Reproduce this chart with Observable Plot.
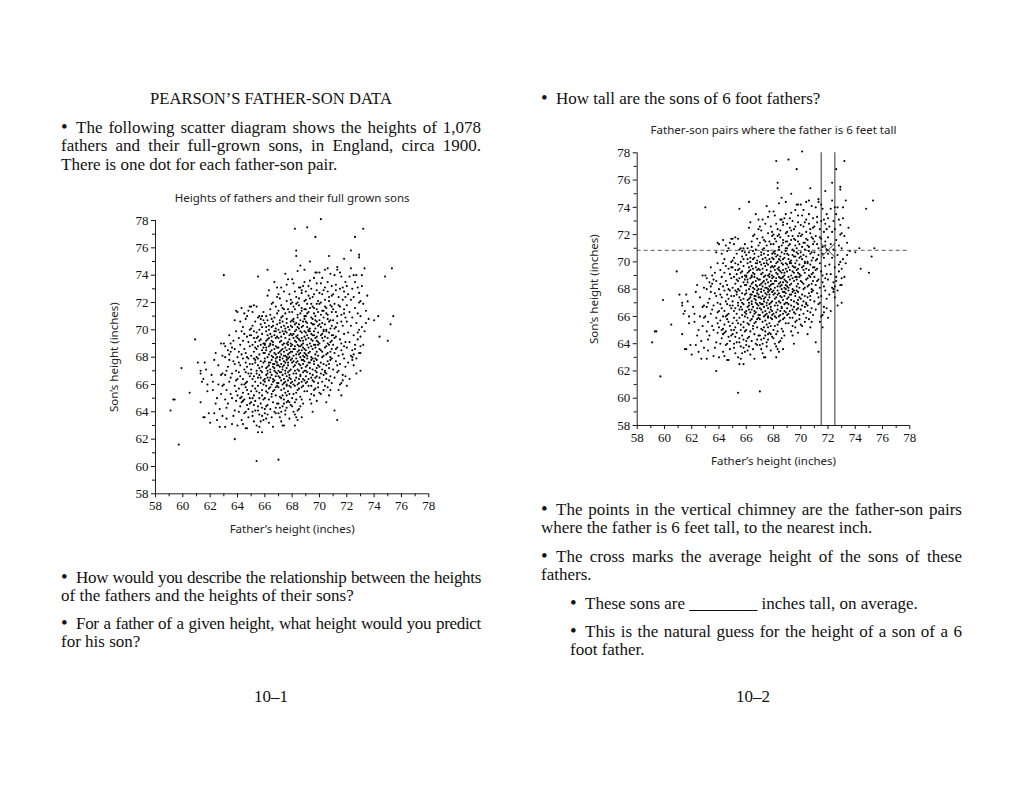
<!DOCTYPE html>
<html><head><meta charset="utf-8">
<script src="https://cdn.jsdelivr.net/npm/d3@7"></script>
<script src="https://cdn.jsdelivr.net/npm/@observablehq/plot@0.6"></script>
<style>
html,body{margin:0;padding:0;background:#fff;}
#page{position:relative;width:1024px;height:791px;overflow:hidden;font-family:"Liberation Serif",serif;font-size:17px;color:#111;}
.p{position:absolute;line-height:18.5px;}
.ln{white-space:nowrap;text-align:justify;text-align-last:justify;}
.ln.last{text-align-last:left;}
.ln.tight{letter-spacing:-0.32px;}
.b{display:inline-block;width:15px;font-size:19px;line-height:10px;letter-spacing:0;}
.c{text-align:center;}
.chart{position:absolute;}
</style></head>
<body><div id="page">
<div class="p c" style="left:61px;top:90px;width:420px;font-size:16.6px;">PEARSON’S FATHER-SON DATA</div>
<div class="p" style="left:61px;top:118.5px;width:420px;">
  <div class="ln"><span class="b">•</span>The following scatter diagram shows the heights of 1,078</div>
  <div class="ln">fathers and their full-grown sons, in England, circa 1900.</div>
  <div class="ln last">There is one dot for each father-son pair.</div>
</div>
<div class="p" style="left:61px;top:568.5px;width:420px;">
  <div class="ln tight"><span class="b">•</span>How would you describe the relationship between the heights</div>
  <div class="ln last">of the fathers and the heights of their sons?</div>
</div>
<div class="p" style="left:61px;top:614.5px;width:420px;">
  <div class="ln tight"><span class="b">•</span>For a father of a given height, what height would you predict</div>
  <div class="ln last">for his son?</div>
</div>
<div class="p c" style="left:221px;top:687.5px;width:100px;">10–1</div>
<div class="p" style="left:541px;top:90px;width:421px;">
  <div class="ln last"><span class="b">•</span>How tall are the sons of 6 foot fathers?</div>
</div>
<div class="p" style="left:541px;top:500.5px;width:421px;">
  <div class="ln"><span class="b">•</span>The points in the vertical chimney are the father-son pairs</div>
  <div class="ln last">where the father is 6 feet tall, to the nearest inch.</div>
</div>
<div class="p" style="left:541px;top:547.5px;width:421px;">
  <div class="ln"><span class="b">•</span>The cross marks the average height of the sons of these</div>
  <div class="ln last">fathers.</div>
</div>
<div class="p" style="left:570px;top:594.5px;width:392px;">
  <div class="ln last"><span class="b">•</span>These sons are ________ inches tall, on average.</div>
</div>
<div class="p" style="left:570px;top:622.5px;width:392px;">
  <div class="ln"><span class="b">•</span>This is the natural guess for the height of a son of a 6</div>
  <div class="ln last">foot father.</div>
</div>
<div class="p c" style="left:703px;top:687.5px;width:100px;">10–2</div>
<div id="left" class="chart" style="left:90px;top:180px;"></div>
<div id="right" class="chart" style="left:570px;top:112px;"></div>
</div>
<script>
// [father, son] heights in inches, grouped by father height band
const band59to62 = [[59.1,64.1],[59.3,64.9],[59.4,64.9],[59.7,61.6],[59.9,67.2],[60.5,65.4],[60.9,69.3],
[61.1,67.6],[61.3,67.0],[61.3,66.8],[61.3,64.7],[61.5,66.4],[61.5,63.6],[61.6,63.6],[61.6,67.6],[61.8,66.0],[61.7,67.1],[61.9,63.9],[62.0,63.2],[61.8,65.5],[61.4,66.2]];
const band62to63 = [[62.1,66.7],[62.3,67.8],[62.2,66.2],[62.3,63.9],[62.5,65.0],[62.4,64.6],[62.7,62.9],[62.8,66.7],[62.9,66.8],[62.8,65.3],[62.9,63.7],[62.6,67.4],[62.4,68.3],[62.7,64.2],[62.9,65.9],[62.2,65.6],[62.6,66.0],[62.8,69.0],[62.5,63.4],[62.9,68.1]];
const band63to64 = [[63.0,69.0],[63.1,68.8],[63.0,66.0],[63.0,74.0],[63.1,64.9],[63.1,62.9],[63.2,64.3],[63.2,63.5],[63.3,68.5],[63.4,68.2],[63.4,69.6],[63.5,66.5],[63.5,65.3],[63.6,68.7],[63.7,63.7],[63.8,65.9],[63.8,64.1],[63.8,70.7],[63.8,62.0],[63.9,71.4],[64.0,71.3],[63.9,69.9],[63.7,67.7],[63.8,67.5],[63.9,67.0],[63.6,66.8],[63.3,67.3],[63.1,68.0],[63.4,66.2],[63.6,65.0],[63.2,65.6],[63.9,66.3],[63.5,68.4],[63.7,69.2],[63.3,64.6],[63.9,64.8],[63.6,63.1],[63.4,67.8],[63.8,68.6],[63.1,66.7],[63.9,65.5],[63.5,69.0],[63.2,67.0]];
const band64to65 = [[64.0,63.0],[64.3,65.1],[64.4,63.1],[64.6,62.8],[64.7,62.8],[64.8,71.4],[64.1,67.6],[64.2,68.9],[64.2,66.6],[64.3,69.9],[64.4,70.2],[64.5,67.1],[64.5,64.9],[64.6,65.8],[64.6,68.3],[64.7,69.5],[64.7,66.2],[64.8,64.2],[64.9,67.5],[64.9,68.8],[64.1,65.7],[64.2,64.4],[64.3,66.0],[64.4,67.9],[64.5,63.9],[64.6,70.8],[64.7,67.3],[64.8,65.3],[64.9,66.6],[64.0,68.0],[64.1,69.4],[64.2,70.6],[64.3,64.7],[64.4,65.4],[64.5,68.6],[64.6,66.9],[64.7,64.5],[64.8,69.1],[64.9,70.0],[64.0,66.4],[64.1,64.0],[64.2,67.4],[64.3,68.2],[64.4,66.4],[64.5,69.7],[64.6,64.0],[64.7,68.0],[64.8,66.8],[64.9,65.0],[64.0,65.2],[64.3,71.6],[64.5,71.2],[64.6,67.6],[64.7,71.0],[64.8,63.6],[64.9,64.6],[64.1,66.9],[64.2,65.0],[64.4,69.2],[64.6,66.1],[64.8,67.9],[64.9,69.6],[64.5,66.0],[64.3,63.4],[64.7,65.6],[64.1,68.4],[64.9,71.7],[64.4,64.8]];
const band65to66 = [[65.0,71.7],[65.2,71.8],[65.4,71.7],[65.1,71.3],[65.4,60.4],[65.5,73.9],[65.5,62.5],[65.8,62.5],[65.7,63.3],[65.6,63.8],[65.8,63.7],[65.3,64.1],[65.5,64.4],[65.9,64.9],[65.0,64.7],[65.2,65.2],[65.4,65.5],[65.6,65.0],[65.8,65.6],[65.1,65.9],[65.3,66.2],[65.5,66.5],[65.7,66.1],[65.9,66.3],[65.0,66.8],[65.2,66.6],[65.4,67.0],[65.6,67.2],[65.8,66.9],[65.1,67.5],[65.3,67.8],[65.5,67.4],[65.7,67.7],[65.9,67.6],[65.0,68.1],[65.2,68.4],[65.4,68.6],[65.6,68.2],[65.8,68.5],[65.1,68.9],[65.3,69.1],[65.5,68.8],[65.7,69.3],[65.9,69.0],[65.0,69.6],[65.2,69.4],[65.4,69.8],[65.6,70.0],[65.8,69.7],[65.1,70.3],[65.3,70.6],[65.5,70.9],[65.7,70.4],[65.9,70.7],[65.2,63.3],[65.6,62.9],[65.4,63.0],[65.9,63.4],[65.1,64.0],[65.3,65.7],[65.7,64.6],[65.5,65.9],[65.8,67.3],[65.0,67.1],[65.6,66.7],[65.2,67.9],[65.9,68.3],[65.4,68.0],[65.7,68.9],[65.1,66.4],[65.3,64.8],[65.8,65.2],[65.5,69.5],[65.6,71.0],[65.9,71.3],[65.0,65.5],[65.2,69.9],[65.4,66.8],[65.6,69.2],[65.8,70.2],[65.1,63.7],[65.3,67.6],[65.7,67.0],[65.9,66.0],[65.5,67.9],[65.0,70.1],[65.8,64.3],[65.2,64.5],[65.6,65.4],[65.4,69.4],[65.7,70.8],[65.9,68.7],[65.3,68.7],[65.1,65.0],[65.8,71.0],[65.5,64.1],[65.7,66.5]];
const band66to67 = [[66.2,74.4],[66.7,73.5],[66.2,72.5],[66.6,72.0],[66.9,72.4],[66.4,71.5],[66.8,71.7],[66.1,71.0],[66.5,70.8],[66.9,71.2],[66.0,70.5],[66.3,70.3],[66.6,70.6],[66.8,70.1],[66.1,69.9],[66.4,69.7],[66.7,69.9],[66.9,69.5],[66.2,69.3],[66.5,69.2],[66.8,69.4],[66.0,69.0],[66.3,68.8],[66.6,68.9],[66.9,68.7],[66.1,68.5],[66.4,68.4],[66.7,68.3],[66.2,68.0],[66.5,68.1],[66.8,67.9],[66.0,67.7],[66.3,67.6],[66.6,67.5],[66.9,67.4],[66.1,67.2],[66.4,67.1],[66.7,67.0],[66.2,66.8],[66.5,66.7],[66.8,66.6],[66.0,66.4],[66.3,66.3],[66.6,66.2],[66.9,66.1],[66.1,65.9],[66.4,65.8],[66.7,65.6],[66.2,65.4],[66.5,65.3],[66.8,65.2],[66.0,65.0],[66.3,64.9],[66.6,64.7],[66.9,64.6],[66.1,64.4],[66.4,64.2],[66.7,64.0],[66.2,63.8],[66.5,63.6],[66.0,63.9],[66.8,63.9],[66.3,63.2],[66.6,62.9],[66.2,67.3],[66.5,67.8],[66.8,68.2],[66.1,68.7],[66.4,69.0],[66.7,69.6],[66.9,70.4],[66.3,70.0],[66.6,67.3],[66.0,67.9],[66.2,66.5],[66.5,66.0],[66.8,66.9],[66.1,66.7],[66.4,67.6],[66.7,68.6],[66.9,68.0],[66.3,68.2],[66.6,69.1],[66.0,68.3],[66.2,69.6],[66.5,70.2],[66.8,67.7],[66.1,65.5],[66.4,66.5],[66.7,67.2],[66.9,65.9],[66.3,65.7],[66.6,66.4],[66.0,66.2],[66.2,64.5],[66.5,65.1],[66.8,64.3],[66.1,63.5],[66.4,68.9],[66.7,66.3],[66.9,67.6],[66.3,67.4],[66.6,68.0],[66.0,68.9],[66.2,70.7],[66.5,69.5],[66.8,69.9],[66.1,70.2],[66.4,71.1],[66.7,70.9],[66.3,72.9],[66.9,73.1],[66.5,71.9],[66.6,65.5],[66.0,64.2],[66.8,65.8],[66.2,67.0],[66.4,66.9],[66.7,67.5],[66.9,66.8],[66.3,69.4],[66.6,70.3],[66.1,69.2],[66.5,68.5],[66.8,68.8]];
const band67to68 = [[67.0,60.5],[67.3,63.0],[67.4,63.0],[67.5,74.1],[67.7,73.7],[67.2,73.1],[67.4,72.8],[67.8,72.6],[67.1,72.3],[67.6,72.1],[67.9,71.9],[67.3,71.6],[67.0,71.4],[67.5,71.2],[67.8,71.3],[67.2,70.9],[67.6,70.8],[67.9,70.6],[67.1,70.5],[67.4,70.3],[67.7,70.2],[67.0,70.0],[67.3,69.9],[67.6,69.8],[67.9,69.7],[67.2,69.5],[67.5,69.4],[67.8,69.3],[67.1,69.1],[67.4,69.0],[67.7,68.9],[67.0,68.7],[67.3,68.6],[67.6,68.5],[67.9,68.4],[67.2,68.2],[67.5,68.1],[67.8,68.0],[67.1,67.8],[67.4,67.7],[67.7,67.6],[67.0,67.4],[67.3,67.3],[67.6,67.2],[67.9,67.1],[67.2,66.9],[67.5,66.8],[67.8,66.7],[67.1,66.5],[67.4,66.4],[67.7,66.3],[67.0,66.1],[67.3,66.0],[67.6,65.9],[67.9,65.8],[67.2,65.6],[67.5,65.4],[67.8,65.3],[67.1,65.1],[67.4,64.9],[67.7,64.8],[67.0,64.6],[67.3,64.4],[67.6,64.3],[67.9,64.5],[67.2,64.0],[67.5,63.8],[67.8,63.5],[67.1,63.6],[67.6,66.6],[67.0,68.3],[67.2,67.5],[67.4,68.4],[67.6,69.0],[67.8,68.6],[67.1,68.0],[67.3,68.9],[67.5,67.0],[67.7,67.9],[67.9,69.0],[67.0,69.4],[67.2,70.2],[67.4,69.7],[67.6,70.5],[67.8,70.0],[67.1,66.9],[67.3,66.7],[67.5,66.2],[67.7,65.5],[67.9,66.4],[67.0,65.8],[67.2,66.3],[67.4,65.7],[67.6,65.2],[67.8,64.7],[67.1,67.3],[67.3,67.9],[67.5,68.7],[67.7,68.2],[67.9,67.8],[67.0,67.0],[67.2,68.5],[67.4,67.4],[67.6,67.8],[67.8,69.6],[67.1,70.7],[67.3,71.0],[67.5,70.1],[67.7,71.5],[67.9,72.2],[67.0,72.6],[67.2,71.8],[67.4,71.5],[67.6,73.3],[67.8,67.0],[67.1,64.3],[67.3,65.2],[67.5,64.1],[67.7,66.9],[67.9,68.8],[67.0,66.6],[67.2,69.2],[67.4,66.1],[67.6,68.0],[67.8,68.3],[67.1,69.8],[67.3,70.6],[67.5,69.9],[67.7,69.1],[67.9,70.3],[67.0,63.9],[67.2,65.0],[67.4,68.1],[67.6,66.0],[67.8,65.9],[67.3,67.1],[67.5,67.6],[67.7,67.4],[67.1,68.4],[67.9,66.1],[67.4,64.6],[67.6,64.7],[67.2,63.3],[67.8,66.5]];
const band68to69 = [[68.2,63.0],[68.2,77.4],[68.3,75.8],[68.3,75.4],[68.6,74.7],[68.4,74.3],[68.9,74.4],[68.5,73.1],[68.8,73.2],[68.1,73.4],[68.7,72.7],[68.3,72.4],[68.9,72.1],[68.0,72.0],[68.5,71.8],[68.2,71.5],[68.7,71.4],[68.4,71.1],[68.9,71.0],[68.1,70.8],[68.6,70.7],[68.3,70.5],[68.8,70.3],[68.0,70.2],[68.5,70.1],[68.2,69.9],[68.7,69.8],[68.4,69.6],[68.9,69.5],[68.1,69.4],[68.6,69.2],[68.3,69.1],[68.8,69.0],[68.0,68.9],[68.5,68.8],[68.2,68.6],[68.7,68.5],[68.4,68.4],[68.9,68.3],[68.1,68.1],[68.6,68.0],[68.3,67.9],[68.8,67.8],[68.0,67.6],[68.5,67.5],[68.2,67.4],[68.7,67.2],[68.4,67.1],[68.9,67.0],[68.1,66.8],[68.6,66.7],[68.3,66.5],[68.8,66.4],[68.0,66.2],[68.5,66.1],[68.2,65.9],[68.7,65.8],[68.4,65.6],[68.9,65.5],[68.1,65.3],[68.6,65.1],[68.3,64.9],[68.8,64.6],[68.0,64.4],[68.5,64.2],[68.2,63.8],[68.7,63.6],[68.4,64.1],[68.1,69.7],[68.3,70.0],[68.5,69.3],[68.7,68.9],[68.9,69.9],[68.0,68.4],[68.2,68.8],[68.4,67.7],[68.6,68.3],[68.8,68.7],[68.1,67.3],[68.3,68.2],[68.5,67.0],[68.7,67.8],[68.9,68.0],[68.0,69.6],[68.2,70.4],[68.4,70.9],[68.6,71.2],[68.8,70.6],[68.1,71.7],[68.3,71.9],[68.5,72.3],[68.7,72.9],[68.9,73.5],[68.0,73.7],[68.2,66.3],[68.4,66.0],[68.6,66.6],[68.8,65.9],[68.1,66.0],[68.3,65.4],[68.5,65.7],[68.7,64.9],[68.9,66.3],[68.0,65.0],[68.2,64.7],[68.4,63.4],[68.6,64.4],[68.8,67.5],[68.1,68.6],[68.3,69.5],[68.5,68.5],[68.7,69.4],[68.9,68.6],[68.0,67.9],[68.2,67.0],[68.4,68.9],[68.6,69.9],[68.8,69.2],[68.1,70.6],[68.3,67.6],[68.5,70.4],[68.7,70.2],[68.9,70.8],[68.0,71.3],[68.2,72.8],[68.4,72.0],[68.6,67.4],[68.8,66.9],[68.1,67.7],[68.3,66.8],[68.5,66.4],[68.7,66.2],[68.9,67.7],[68.0,70.7],[68.2,69.2],[68.4,69.4],[68.6,68.8],[68.8,68.1],[68.1,64.0],[68.3,63.6],[68.5,68.2],[68.7,71.6],[68.9,71.5],[68.4,70.2],[68.6,73.1]];
const band69to70 = [[69.1,77.5],[69.7,76.8],[69.3,75.0],[69.5,64.0],[69.6,65.2],[69.7,74.2],[69.8,74.2],[69.2,73.2],[69.8,73.4],[69.4,73.0],[69.0,72.8],[69.6,72.6],[69.3,72.3],[69.9,72.1],[69.1,71.9],[69.5,71.7],[69.8,71.5],[69.2,71.3],[69.6,71.2],[69.0,71.0],[69.4,70.9],[69.7,70.7],[69.1,70.5],[69.5,70.4],[69.9,70.3],[69.3,70.1],[69.6,69.9],[69.0,69.8],[69.4,69.7],[69.8,69.5],[69.2,69.4],[69.5,69.2],[69.9,69.1],[69.1,68.9],[69.4,68.8],[69.7,68.7],[69.0,68.5],[69.3,68.4],[69.7,68.2],[69.1,68.1],[69.5,67.9],[69.8,67.8],[69.2,67.6],[69.6,67.5],[69.0,67.3],[69.3,67.2],[69.7,67.0],[69.1,66.9],[69.5,66.7],[69.8,66.6],[69.2,66.4],[69.6,66.2],[69.0,66.1],[69.4,65.9],[69.7,65.7],[69.1,65.5],[69.4,65.3],[69.9,65.8],[69.3,64.9],[69.8,66.9],[69.0,70.6],[69.2,70.0],[69.4,69.3],[69.6,68.9],[69.8,68.4],[69.1,69.6],[69.3,69.0],[69.5,68.6],[69.7,69.4],[69.9,69.8],[69.0,68.2],[69.2,68.7],[69.4,67.8],[69.6,67.7],[69.8,70.6],[69.1,71.2],[69.3,71.6],[69.5,70.8],[69.7,71.0],[69.9,71.3],[69.0,72.2],[69.2,72.5],[69.4,71.9],[69.6,73.8],[69.8,72.9],[69.1,67.4],[69.3,66.8],[69.5,66.3],[69.7,66.5],[69.9,67.4],[69.0,66.6],[69.2,65.9],[69.4,66.5],[69.6,65.6],[69.8,64.8],[69.1,70.2],[69.3,69.9],[69.5,69.6],[69.7,70.1],[69.9,68.9],[69.0,69.3],[69.2,68.3],[69.4,68.0],[69.6,70.4],[69.8,69.2],[69.1,67.9],[69.3,67.6],[69.5,67.1],[69.7,67.9],[69.9,68.1],[69.0,67.0],[69.4,70.5],[69.6,69.6],[69.8,67.2],[69.2,69.9],[69.5,72.4],[69.3,73.6],[69.9,66.1],[69.1,66.2],[69.7,68.9],[69.4,64.6],[69.6,71.6],[69.8,71.9],[69.0,71.5]];
const band70to71 = [[70.1,78.1],[70.7,75.4],[70.5,64.7],[70.4,74.4],[70.8,74.1],[70.2,73.8],[70.6,73.5],[70.9,73.2],[70.3,72.9],[70.0,72.7],[70.7,72.4],[70.4,72.2],[70.1,72.0],[70.8,71.8],[70.5,71.6],[70.2,71.4],[70.9,71.3],[70.6,71.1],[70.3,70.9],[70.0,70.7],[70.7,70.6],[70.4,70.4],[70.1,70.2],[70.8,70.1],[70.5,69.9],[70.2,69.7],[70.9,69.6],[70.6,69.4],[70.3,69.2],[70.0,69.0],[70.7,68.9],[70.4,68.7],[70.1,68.5],[70.8,68.4],[70.5,68.2],[70.2,68.0],[70.9,67.9],[70.6,67.7],[70.3,67.5],[70.0,67.3],[70.7,67.2],[70.4,67.0],[70.1,66.8],[70.8,66.6],[70.5,66.4],[70.2,66.2],[70.9,66.1],[70.6,65.8],[70.3,65.6],[70.0,65.4],[70.7,65.2],[70.4,66.9],[70.1,67.6],[70.8,68.0],[70.5,68.8],[70.2,69.4],[70.9,70.3],[70.6,70.8],[70.3,71.4],[70.0,71.9],[70.7,72.1],[70.4,73.1],[70.1,73.4],[70.8,69.1],[70.5,70.0],[70.2,70.5],[70.9,68.6],[70.6,68.3],[70.3,68.1],[70.0,68.6],[70.7,67.5],[70.4,69.5],[70.1,69.6],[70.8,70.7],[70.5,71.2],[70.2,72.6],[70.9,71.7],[70.6,72.8],[70.3,66.7],[70.0,66.5],[70.7,66.3],[70.4,65.9],[70.1,65.3],[70.8,65.6],[70.5,67.4],[70.2,67.1],[70.6,69.0],[70.3,70.0],[70.0,70.4],[70.9,69.2],[70.4,71.7],[70.1,71.1],[70.8,67.8],[70.5,66.8],[70.2,68.4],[70.7,69.8],[70.3,69.9],[70.6,74.5],[70.0,74.2],[70.9,72.5]];
const band71to72 = [[71.3,63.4],[71.1,64.1],[71.4,65.6],[71.7,66.3],[71.6,66.1],[71.8,75.2],[71.3,74.6],[71.3,74.4],[71.1,74.0],[71.6,73.9],[71.9,73.5],[71.2,73.3],[71.5,73.0],[71.8,72.8],[71.0,72.6],[71.4,72.4],[71.7,72.2],[71.1,71.9],[71.5,71.7],[71.8,71.5],[71.2,71.3],[71.6,71.1],[71.9,70.9],[71.0,70.7],[71.3,70.5],[71.7,70.3],[71.1,70.1],[71.4,69.9],[71.8,69.7],[71.2,69.5],[71.5,69.3],[71.9,69.1],[71.0,68.9],[71.3,68.7],[71.6,68.5],[71.1,68.3],[71.4,68.1],[71.8,67.9],[71.2,67.7],[71.5,67.5],[71.9,67.3],[71.0,67.1],[71.3,66.9],[71.7,66.7],[71.1,66.5],[71.5,66.0],[71.6,69.0],[71.2,70.2],[71.8,71.2],[71.4,71.8],[71.0,69.6],[71.7,68.2],[71.3,67.4],[71.9,72.4],[71.5,74.2],[71.2,72.9],[71.6,70.6],[71.0,71.5],[71.8,68.8],[71.4,67.0],[71.9,66.6],[71.1,69.4],[71.7,73.1],[71.3,71.0],[71.6,65.2],[71.2,68.6]];
const band72to73 = [[72.3,75.8],[72.6,76.8],[72.9,75.5],[72.9,75.3],[72.5,74.0],[72.7,74.0],[72.2,73.9],[72.0,73.2],[72.4,73.0],[72.8,73.1],[72.1,72.6],[72.5,72.4],[72.9,72.0],[72.3,72.2],[72.0,71.8],[72.6,71.6],[72.2,71.3],[72.8,71.2],[72.4,70.9],[72.0,70.6],[72.7,70.5],[72.3,70.3],[72.9,70.0],[72.1,69.8],[72.5,69.6],[72.8,69.3],[72.2,69.1],[72.6,68.9],[72.0,68.7],[72.4,68.5],[72.9,68.3],[72.3,68.1],[72.7,67.9],[72.1,67.6],[72.5,67.4],[72.4,68.0],[72.5,68.2],[72.4,67.8],[72.6,68.6],[72.8,69.8],[72.2,66.4],[72.0,65.9],[72.7,66.8],[72.3,74.5],[72.9,72.7],[72.6,73.5]];
const band73up = [[73.2,77.4],[73.3,74.5],[74.8,73.9],[75.3,74.5],[75.4,71.0],[75.2,70.4],[75.0,69.2],[74.4,69.5],[74.3,71.0],[74.0,70.7],[73.5,72.5],[73.4,70.5],[73.3,69.9],[73.0,68.3],[73.0,67.0],[73.0,71.0],[73.1,73.2],[73.2,71.9],[73.0,72.1],[73.1,70.2],[73.0,69.5],[73.4,71.4],[73.2,68.9],[73.1,74.0],[73.6,70.8],[73.0,68.8]];

const pairs = [].concat(band59to62, band62to63, band63to64, band64to65, band65to66, band66to67,
  band67to68, band68to69, band69to70, band70to71, band71to72, band72to73, band73up);

const majorTicks = [58,60,62,64,66,68,70,72,74,76,78];
const minorTicks = [59,61,63,65,67,69,71,73,75,77];
const chimneyBounds = [71.5, 72.5];   // fathers 6 feet tall, to the nearest inch
const chimneyAverage = [[72, 70.85]];  // cross: average son height in the chimney

const serif = "Liberation Serif";
const sans = "Noto Sans";

function scatter(opts, title, extra) {
  const tickText = {fontFamily: serif, fontSize: 13, label: null};
  return Plot.plot({
    width: opts.width, height: opts.height,
    marginLeft: opts.ml, marginRight: opts.mr, marginTop: opts.mt, marginBottom: opts.mb,
    x: {domain: [58, 78], label: null},
    y: {domain: [58, 78], label: null},
    style: {color: "#111", background: "transparent", overflow: "visible"},
    marks: [
      Plot.ruleY([58], {stroke: "#222", strokeWidth: 1}),
      Plot.ruleX([58], {stroke: "#222", strokeWidth: 1}),
      Plot.axisX({ticks: majorTicks, tickSize: 4, tickPadding: 3, ...tickText}),
      Plot.axisX({ticks: minorTicks, tickSize: 3, tickFormat: () => "", label: null}),
      Plot.axisY({ticks: majorTicks, tickSize: 4, tickPadding: 3, ...tickText}),
      Plot.axisY({ticks: minorTicks, tickSize: 3, tickFormat: () => "", label: null}),
      ...extra,
      Plot.dot(pairs, {x: d => d[0], y: d => d[1], r: 1.05, fill: "#000", stroke: null}),
      Plot.text([title], {frameAnchor: "top", dy: -27, fontFamily: sans, fontSize: 11.5, fill: "#222"}),
      Plot.text(["Father’s height (inches)"], {frameAnchor: "bottom", dy: 39, fontFamily: sans, fontSize: 11.5, fill: "#222"}),
      Plot.text(["Son’s height (inches)"], {frameAnchor: "left", dx: opts.ylabDx, rotate: -90, textAnchor: "middle", fontFamily: sans, fontSize: 11.5, fill: "#222"})
    ]
  });
}

document.getElementById("left").append(scatter(
  {width: 350, height: 370, ml: 65, mr: 11.7, mt: 40, mb: 56.7, ylabDx: -41},
  "Heights of fathers and their full grown sons", []));

document.getElementById("right").append(scatter(
  {width: 350, height: 370, ml: 66.7, mr: 10.7, mt: 40.3, mb: 57, ylabDx: -42.7},
  "Father-son pairs where the father is 6 feet tall",
  [
    Plot.ruleX(chimneyBounds, {stroke: "#555", strokeWidth: 1.2}),
    Plot.ruleY(chimneyAverage, {y: d => d[1], stroke: "#444", strokeWidth: 0.9, strokeDasharray: "4,3"}),
    Plot.dot(chimneyAverage, {x: d => d[0], y: d => d[1], symbol: "times", r: 6.5, stroke: "#333", strokeWidth: 1})
  ]));
</script>
</body></html>
